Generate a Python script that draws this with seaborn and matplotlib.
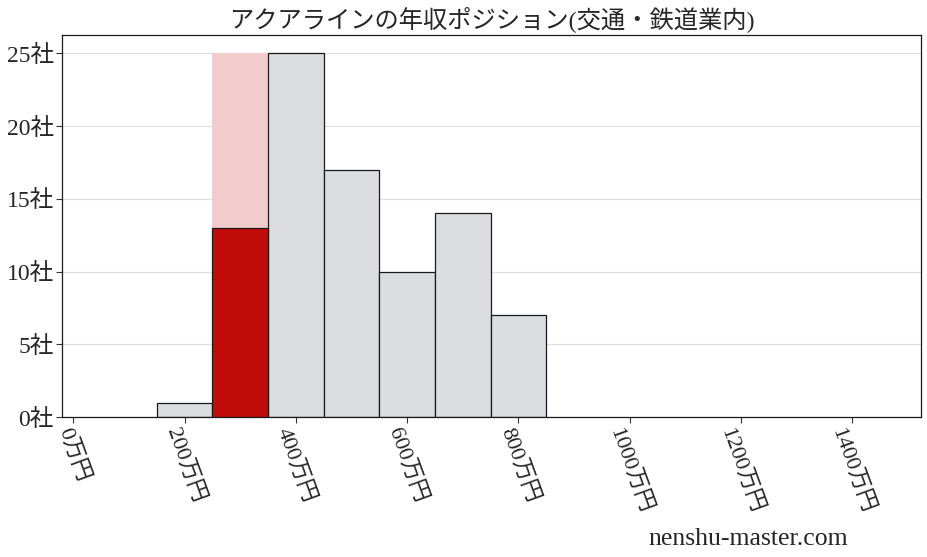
import pandas as pd
import seaborn as sns
import matplotlib.pyplot as plt

# bin centres (万円) and company counts
centers = [200, 300, 400, 500, 600, 700, 800]
counts = [1, 13, 25, 17, 10, 14, 7]
highlight = 300
bin_width = 100

xticks = [0, 200, 400, 600, 800, 1000, 1200, 1400]
yticks = [0, 5, 10, 15, 20, 25]

title = 'アクアラインの年収ポジション(交通・鉄道業内)'
credit = 'nenshu-master.com'

sns.set_style('white')
plt.rcParams['font.family'] = ['Liberation Serif', 'Noto Sans CJK JP', 'DejaVu Sans']

df = pd.DataFrame({'center': centers, 'count': counts})
others = df[df['center'] != highlight]
hl_count = df.loc[df['center'] == highlight, 'count'].iloc[0]

fig = plt.figure(figsize=(9.28, 5.57), dpi=100)
ax = fig.add_axes([0.067, 0.251, 0.925, 0.686])

lo = min(centers) - bin_width / 2
hi = max(centers) + bin_width / 2

# pink backdrop behind the highlighted bin, up to the tallest bar
ax.bar(highlight, df['count'].max(), width=bin_width, color='#f0cccc',
       edgecolor='none', zorder=1)
sns.histplot(data=others, x='center', weights='count', binwidth=bin_width,
             binrange=(lo, hi), ax=ax, color='#dcdde0', alpha=1,
             edgecolor='#1a1a1a', linewidth=0.9, zorder=2)
ax.bar(highlight, hl_count, width=bin_width, color='#c00b0b',
       edgecolor='#1a1a1a', linewidth=0.9, zorder=3)

ax.set_xlim(-20, 1523)
ax.set_ylim(0, max(counts) * 1.05)
ax.set_xticks(xticks)
ax.set_xticklabels([f'{v}万円' for v in xticks], rotation=-70, fontsize=16)
ax.set_yticks(yticks)
ax.set_yticklabels([f'{v}社' for v in yticks], fontsize=17)
ax.tick_params(axis='both', direction='out', length=4, width=0.8,
               color='#333333', pad=2, bottom=True, left=True)
ax.set_xlabel('')
ax.set_ylabel('')

ax.yaxis.grid(True, color='#dddddd', linewidth=0.8, zorder=0)
ax.set_axisbelow(True)
for s in ax.spines.values():
    s.set_color('#1a1a1a')
    s.set_linewidth(0.9)

ax.set_title(title, fontsize=17.5, pad=6)
fig.text(0.914, 0.012, credit, fontsize=18.5, ha='right', va='bottom')

fig.savefig('out.png', dpi=100)
